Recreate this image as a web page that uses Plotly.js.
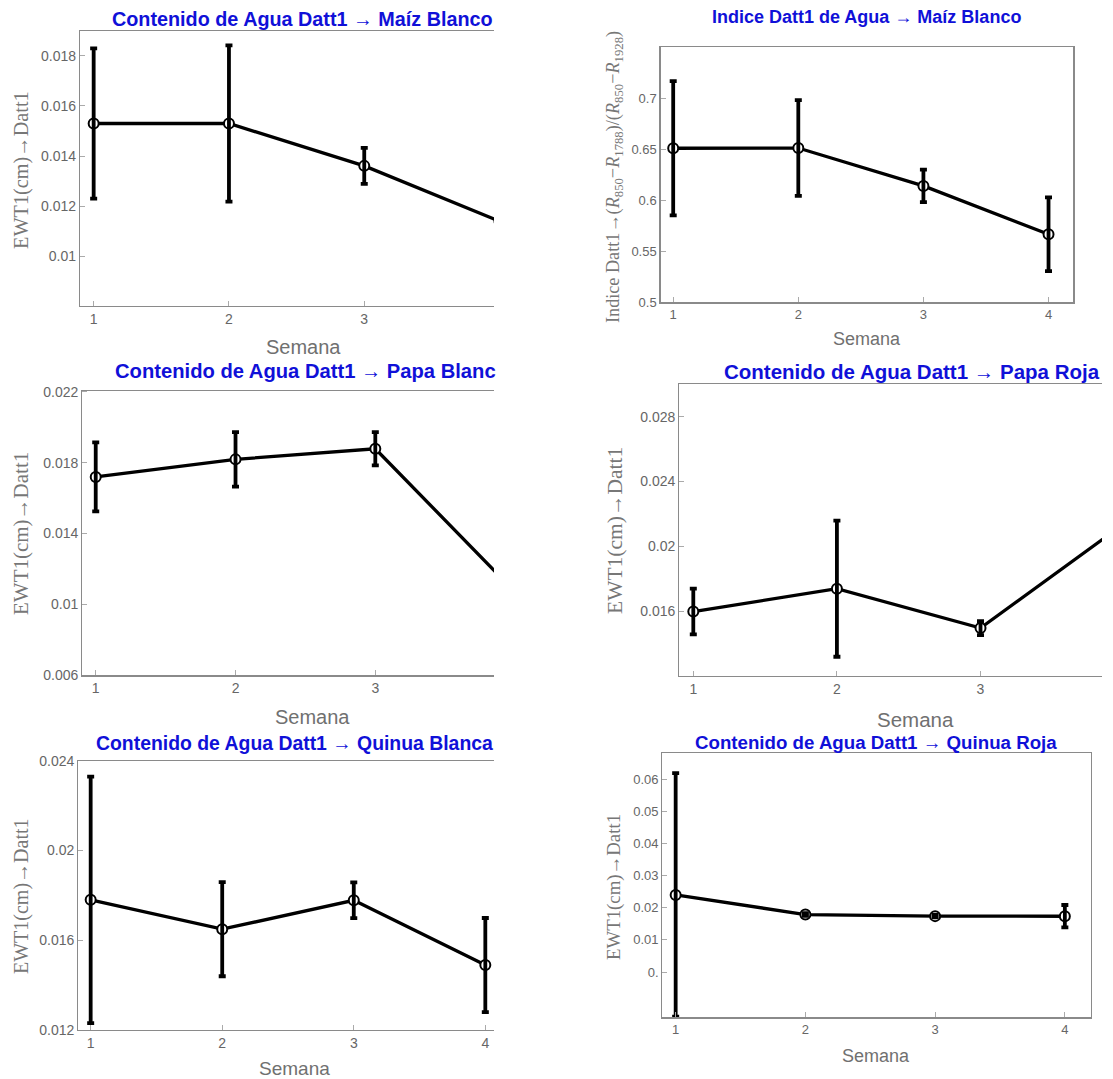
<!DOCTYPE html>
<html><head><meta charset="utf-8">
<script src="https://cdn.plot.ly/plotly-3.0.1.min.js"></script>
<style>html,body{margin:0;padding:0;background:#fff}#chart{width:1113px;height:1079px}</style>
</head><body><div id="chart"></div>
<script>
// ---- data ----
const semanas = [1, 2, 3, 4];

const ewtMaizBlanco = [0.0153, 0.0153, 0.01361, 0.0114];
const errMaizBlanco = [0.0030, 0.00312, 0.00072, 0.0010];

const idxMaizBlanco = [0.6513, 0.6515, 0.6143, 0.5668];
const errIdxMaizBlanco = [0.0659, 0.0471, 0.0159, 0.0362];

const ewtPapaBlanca = [0.0172, 0.01819, 0.01879, 0.0107];
const errPapaBlanca = [0.00195, 0.00154, 0.00094, 0.0010];

const ewtPapaRoja = [0.01597, 0.01738, 0.01495, 0.0214];
const errPapaRoja = [0.00141, 0.0042, 0.00043, 0.0010];

const ewtQuinuaBlanca = [0.0178, 0.01649, 0.01778, 0.01489];
const errQuinuaBlanca = [0.0055, 0.0021, 0.0008, 0.0021];

const ewtQuinuaRoja = [0.0240, 0.0179, 0.0174, 0.01737];
const errQuinuaRoja = [0.0379, 0.0004, 0.0004, 0.0035];

const titulos = [
  "Contenido de Agua Datt1 \u2192 Ma\u00edz Blanco",
  "Indice Datt1 de Agua \u2192 Ma\u00edz Blanco",
  "Contenido de Agua Datt1 \u2192 Papa Blanc",
  "Contenido de Agua Datt1 \u2192 Papa Roja",
  "Contenido de Agua Datt1 \u2192 Quinua Blanca",
  "Contenido de Agua Datt1 \u2192 Quinua Roja"
];
const ejeX = "Semana";
const ejeYEwt = "EWT1(cm)\u2192Datt1";
const ejeYIdx = "Indice Datt1\u2192(<i>R</i><sub>850</sub>\u2212<i>R</i><sub>1788</sub>)/(<i>R</i><sub>850</sub>\u2212<i>R</i><sub>1928</sub>)";

const ticksX4 = [1, 2, 3, 4];
const ticksX4_lab = ["1", "2", "3", "4"];
const ticksX3 = [1, 2, 3];
const ticksX3_lab = ["1", "2", "3"];
const ticksY1 = [0.01, 0.012, 0.014, 0.016, 0.018];
const ticksY1_lab = ["0.01", "0.012", "0.014", "0.016", "0.018"];
const ticksY2 = [0.5, 0.55, 0.6, 0.65, 0.7];
const ticksY2_lab = ["0.5", "0.55", "0.6", "0.65", "0.7"];
const ticksY3 = [0.006, 0.01, 0.014, 0.018, 0.022];
const ticksY3_lab = ["0.006", "0.01", "0.014", "0.018", "0.022"];
const ticksY4 = [0.016, 0.02, 0.024, 0.028];
const ticksY4_lab = ["0.016", "0.02", "0.024", "0.028"];
const ticksY5 = [0.012, 0.016, 0.02, 0.024];
const ticksY5_lab = ["0.012", "0.016", "0.02", "0.024"];
const ticksY6 = [0, 0.01, 0.02, 0.03, 0.04, 0.05, 0.06];
const ticksY6_lab = ["0.", "0.01", "0.02", "0.03", "0.04", "0.05", "0.06"];

// ---- layout (pixel boxes of each panel) ----
const W = 1113, H = 1079;
const SANS = "Liberation Sans, Arial, sans-serif";
const SERIF = "Liberation Serif, Times New Roman, serif";
const BLUE = "#1010d8";
const GRAY = "#666666";

const panels = [
  {y: ewtMaizBlanco, e: errMaizBlanco, box: [80, 494, 31, 306], xr: [0.899, 3.959], yr: [0.00802, 0.01899],
   xv: ticksX3, xt: ticksX3_lab, tv: ticksY1, tt: ticksY1_lab, cut: true, tickfs: 14,
   title: {t: titulos[0], x: 302, y: 19, anchor: "center", fs: 19.8},
   sem: {x: 303, y: 347, fs: 20}, yl: {t: ejeYEwt, x: 21, y: 170, fs: 20.3}},
  {y: idxMaizBlanco, e: errIdxMaizBlanco, box: [660.5, 1073.3, 47.3, 302.3], xr: [0.8985, 4.198], yr: [0.4999, 0.7505],
   xv: ticksX4, xt: ticksX4_lab, tv: ticksY2, tt: ticksY2_lab, cut: false, tickfs: 13,
   title: {t: titulos[1], x: 866, y: 17, anchor: "center", fs: 18},
   sem: {x: 867, y: 339, fs: 18}, yl: {t: ejeYIdx, x: 615, y: 177, fs: 18.2}},
  {y: ewtPapaBlanca, e: errPapaBlanca, box: [82.3, 494, 390.7, 675.3], xr: [0.904, 3.849], yr: [0.00599, 0.02207],
   xv: ticksX3, xt: ticksX3_lab, tv: ticksY3, tt: ticksY3_lab, cut: true, tickfs: 14,
   title: {t: titulos[2], x: 112.7, y: 371, anchor: "left", fs: 20.2},
   sem: {x: 312, y: 717, fs: 20}, yl: {t: ejeYEwt, x: 21, y: 534, fs: 21}},
  {y: ewtPapaRoja, e: errPapaRoja, box: [679.3, 1102, 384, 676], xr: [0.9025, 3.846], yr: [0.01199, 0.03002],
   xv: ticksX3, xt: ticksX3_lab, tv: ticksY4, tt: ticksY4_lab, cut: true, tickfs: 14,
   title: {t: titulos[3], x: 722.3, y: 372, anchor: "left", fs: 20.5},
   sem: {x: 915.6, y: 719, fs: 20.5}, yl: {t: ejeYEwt, x: 615, y: 531, fs: 21.5}},
  {y: ewtQuinuaBlanca, e: errQuinuaBlanca, box: [78.3, 494, 760.7, 1030], xr: [0.906, 4.066], yr: [0.01199, 0.02401],
   xv: ticksX4, xt: ticksX4_lab, tv: ticksY5, tt: ticksY5_lab, cut: true, tickfs: 14,
   title: {t: titulos[4], x: 294, y: 742.5, anchor: "center", fs: 19.4},
   sem: {x: 294.3, y: 1068, fs: 19}, yl: {t: ejeYEwt, x: 21, y: 896, fs: 20}},
  {y: ewtQuinuaRoja, e: errQuinuaRoja, box: [662.3, 1090.8, 753.3, 1017.3], xr: [0.897, 4.2], yr: [-0.0141, 0.0681],
   xv: ticksX4, xt: ticksX4_lab, tv: ticksY6, tt: ticksY6_lab, cut: false, tickfs: 13,
   title: {t: titulos[5], x: 876.2, y: 742.3, anchor: "center", fs: 18.7},
   sem: {x: 876.4, y: 1056, fs: 18}, yl: {t: ejeYEwt, x: 614, y: 887, fs: 18.8}}
];

const traces = [];
const layout = {
  width: W, height: H, margin: {l: 0, r: 0, t: 0, b: 0},
  paper_bgcolor: "#ffffff", plot_bgcolor: "#ffffff",
  showlegend: false, hovermode: false, annotations: []
};

panels.forEach((p, i) => {
  const n = i + 1;
  const xa = "x" + (n === 1 ? "" : n), ya = "y" + (n === 1 ? "" : n);
  const xk = "xaxis" + (n === 1 ? "" : n), yk = "yaxis" + (n === 1 ? "" : n);
  const [l, r, t, b] = p.box;
  // main line + open circles
  traces.push({
    x: semanas, y: p.y, xaxis: xa, yaxis: ya, type: "scatter", mode: "lines+markers",
    line: {color: "#000", width: 3.3},
    marker: {symbol: "circle", size: 10, color: "#fff", line: {color: "#000", width: 2}},
    cliponaxis: true
  });
  // error bars drawn on top
  traces.push({
    x: semanas, y: p.y, xaxis: xa, yaxis: ya, type: "scatter", mode: "markers",
    marker: {size: 1, opacity: 0},
    error_y: {type: "data", array: p.e, visible: true, color: "#000", thickness: 3.8, width: 3.5},
    cliponaxis: true
  });
  layout[xk] = {
    domain: [l / W, r / W], anchor: ya, range: p.xr, tickvals: p.xv, ticktext: p.xt,
    showgrid: false, zeroline: false, showline: true, linecolor: "#8a8a8a", linewidth: 1.2,
    mirror: true, ticks: "inside", ticklen: 5, tickcolor: "#aaaaaa",
    tickfont: {family: SANS, size: p.tickfs, color: GRAY}
  };
  layout[yk] = {
    domain: [1 - b / H, 1 - t / H], anchor: xa, range: p.yr, tickvals: p.tv, ticktext: p.tt,
    showgrid: false, zeroline: false, showline: true, linecolor: "#8a8a8a", linewidth: 1.2,
    mirror: !p.cut, ticks: "inside", ticklen: 5, tickcolor: "#aaaaaa",
    tickfont: {family: SANS, size: p.tickfs, color: GRAY}
  };
  layout.annotations.push({
    xref: "paper", yref: "paper", x: p.title.x / W, y: 1 - p.title.y / H,
    xanchor: p.title.anchor, yanchor: "middle", showarrow: false, text: "<b>" + p.title.t + "</b>",
    font: {family: SANS, size: p.title.fs, color: BLUE}
  });
  layout.annotations.push({
    xref: "paper", yref: "paper", x: p.sem.x / W, y: 1 - p.sem.y / H,
    xanchor: "center", yanchor: "middle", showarrow: false, text: ejeX,
    font: {family: SANS, size: p.sem.fs, color: "#707070"}
  });
  layout.annotations.push({
    xref: "paper", yref: "paper", x: p.yl.x / W, y: 1 - p.yl.y / H,
    xanchor: "center", yanchor: "middle", showarrow: false, text: p.yl.t, textangle: -90,
    font: {family: SERIF, size: p.yl.fs, color: "#777777"}
  });
});

Plotly.newPlot("chart", traces, layout, {displayModeBar: false, staticPlot: true});
</script>
</body></html>
